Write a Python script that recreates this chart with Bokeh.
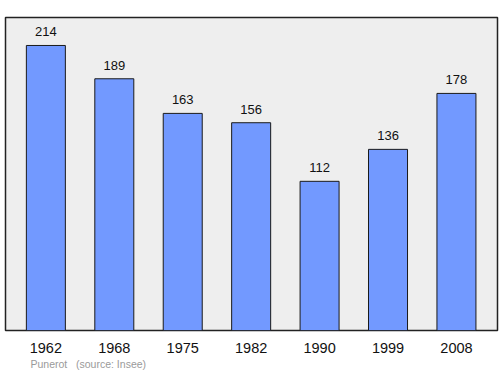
from bokeh.plotting import figure
from bokeh.models import ColumnDataSource, Title, Range1d, FixedTicker
from bokeh.core.properties import value
from bokeh.embed import file_html
from bokeh.resources import INLINE

years = ["1962", "1968", "1975", "1982", "1990", "1999", "2008"]
population = [214, 189, 163, 156, 112, 136, 178]

xs = list(range(len(years)))
src = ColumnDataSource(dict(x=xs, top=population, lbl=[str(v) for v in population]))

p = figure(width=500, height=374, output_backend="svg", toolbar_location=None,
           x_range=Range1d(-0.59, 6.6), y_range=Range1d(0, 235),
           min_border_left=5, min_border_right=3, min_border_top=17, min_border_bottom=44)
p.background_fill_color = "#eeeeee"
p.border_fill_color = "white"
p.outline_line_color = "#222222"
p.outline_line_width = 1.5
p.grid.visible = False
p.yaxis.visible = False

p.vbar(x="x", top="top", bottom=0, width=0.57, source=src,
       fill_color="#7299ff", line_color="#1a1a1a", line_width=1)
p.text(x="x", y="top", text="lbl", source=src, y_offset=-9,
       text_align="center", text_baseline="bottom",
       text_font=value("Liberation Sans"), text_font_size="13px", text_color="#111111")

ax = p.xaxis[0]
ax.ticker = FixedTicker(ticks=xs)
ax.major_label_overrides = {i: y for i, y in enumerate(years)}
ax.major_tick_line_color = None
ax.minor_tick_line_color = None
ax.axis_line_color = None
ax.major_label_standoff = 6
ax.major_label_text_font = "Liberation Sans"
ax.major_label_text_font_size = "14.5px"
ax.major_label_text_color = "#111111"

p.add_layout(Title(text="Punerot\u00a0\u00a0\u00a0(source: Insee)", align="left", offset=25,
                   text_font="Liberation Sans", text_font_size="10.5px",
                   text_font_style="normal", text_color="#9a9a9a",
                   standoff=1), "below")

open("out.html", "w").write(file_html(p, INLINE))
